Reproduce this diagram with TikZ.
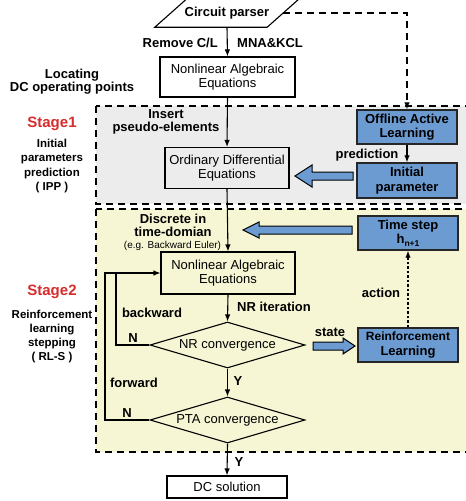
\documentclass[tikz,border=0pt]{standalone}
\usepackage{fontspec}
\setmainfont{Liberation Sans}
\usetikzlibrary{shapes.geometric,arrows.meta}
\definecolor{boxblue}{RGB}{108,155,210}
\definecolor{stagered}{RGB}{214,44,44}
\definecolor{stagegray}{RGB}{236,236,236}
\definecolor{stageyellow}{RGB}{246,246,212}
\newcommand{\fs}[1]{\fontsize{#1}{#1}\selectfont}
\tikzset{
  tip/.style={-{Latex[length=7pt,width=5.5pt]}},
  longdash/.style={dash pattern=on 7pt off 5pt},
  frame/.style={draw, line width=1.3pt, longdash},
  plainbox/.style={draw, line width=1.1pt, align=center, inner sep=0pt,
    font=\fontsize{13}{14.5}\selectfont},
  bluebox/.style={draw=black!85, line width=1.4pt, fill=boxblue, align=center,
    inner sep=0pt, minimum width=100pt, minimum height=34pt,
    font=\fontsize{13}{14.5}\selectfont\bfseries},
  decision/.style={draw, diamond, line width=1.1pt, inner sep=0pt, aspect=3.37,
    minimum width=155pt, minimum height=46pt, font=\fs{13}},
  lbl/.style={font=\fs{13}\bfseries, inner sep=0pt, align=center},
  sidelbl/.style={font=\fontsize{11.5}{14.2}\selectfont\bfseries, inner sep=0pt, align=center},
  stagelbl/.style={font=\fs{15}\bfseries, text=stagered, inner sep=0pt},
  blockarrow/.style={draw, line width=1pt, fill=boxblue, line join=miter},
  flow/.style={line width=1.1pt},
}
\begin{document}
\begin{tikzpicture}[x=1pt, y=-1pt]
\useasboundingbox (0,0) rectangle (466,501);

% stage frames
\fill[white] (0,0) rectangle (466,501);
\path[frame, fill=stagegray] (96,106) rectangle (480,204);
\path[frame, fill=stageyellow] (96,209) rectangle (480,452);

% circuit parser (parallelogram)
\node[inner sep=0pt, minimum width=112pt, minimum height=28pt, font=\fs{13}\bfseries]
  (parser) at (227,13) {Circuit parser};
\draw[flow] ([xshift=-16pt]parser.south west) -- ([xshift=16pt]parser.north west)
  -- ([xshift=16pt]parser.north east) -- ([xshift=-16pt]parser.south east) -- cycle;

% main column
\node[plainbox, fill=white, minimum width=135pt, minimum height=40pt] (nae1) at (227.5,77)
  {Nonlinear Algebraic\\Equations};
\node[plainbox, minimum width=124pt, minimum height=41pt] (ode) at (227,168)
  {Ordinary Differential\\Equations};
\node[plainbox, minimum width=134pt, minimum height=42pt] (nae2) at (228,273)
  {Nonlinear Algebraic\\Equations};
\node[decision] (nr) at (227.5,345) {NR convergence};
\node[decision] (pta) at (227.5,420) {PTA convergence};
\node[plainbox, fill=white, minimum width=120pt, minimum height=22pt] (dc) at (227,487)
  {DC solution};

% learning blocks
\node[bluebox] (oal) at (407,127) {Offline Active\\Learning};
\node[bluebox, minimum height=35pt] (initp) at (407,180.5) {Initial\\parameter};
\node[bluebox] (tstep) at (408,233)
  {Time step\\h\raisebox{-2.5pt}{\fs{8.5}n+1}};
\node[bluebox] (rl) at (408,345) {\fontsize{12}{13.5}\selectfont Reinforcement\\Learning};

% connectors
\draw[flow, tip] (parser.south) -- (nae1.north);
\draw[flow, tip, longdash] (parser.east) -| (oal.north);
\draw[flow, tip] (nae1.south) -- (ode.north);
\draw[flow, tip] (ode.south) -- (nae2.north);
\draw[flow, tip] (nae2.south) -- (nr.north);
\draw[flow, tip] (nr.south) -- (pta.north);
\draw[flow, tip] (pta.south) -- (dc.north);
\draw[flow, tip] (oal.south) -- (initp.north);
\draw[flow, tip, dash pattern=on 2.5pt off 2pt] (rl.north) -- (tstep.south);

\coordinate (jin) at (116,273);
\coordinate (jout) at (105,273);
\draw[flow] (nr.west) -| (jin);
\draw[flow, tip] (pta.west) -| (jout) -- (nae2.west);

% block arrows
\draw[blockarrow] (353,172) -- (312,172) -- (312,165) -- (295,176) -- (312,187)
  -- (312,180) -- (353,180) -- cycle;
\draw[blockarrow] (352,226) -- (259,226) -- (259,222) -- (243,230) -- (259,238)
  -- (259,234) -- (352,234) -- cycle;
\draw[blockarrow] (313,342) -- (343,342) -- (343,338) -- (355,346) -- (343,354)
  -- (343,350) -- (313,350) -- cycle;

% connector labels
\node[lbl, anchor=east] (lremove) at (218,43) {Remove C/L};
\node[lbl, anchor=west] (lmna) at (237,43) {MNA\&KCL};
\node[lbl] (linsert) at (166,122) {\fontsize{13}{15}\selectfont Insert\\pseudo-elements};
\node[lbl] (lpred) at (367,155) {prediction};
\node[lbl] (ldisc) at (173,225.5) {\fontsize{13}{15}\selectfont Discrete in\\time-domian};
\node[font=\fs{10}, inner sep=0pt] (leuler) at (172.5,246) {(e.g. Backward Euler)};
\node[lbl, anchor=west] (lnr) at (237,307) {NR iteration};
\node[lbl] (lstate) at (330,332) {state};
\node[lbl] (laction) at (381,293) {action};
\node[lbl] (lback) at (152,313) {backward};
\node[lbl] (lfwd) at (134,383) {forward};
\node[lbl] (ln1) at (133,338) {N};
\node[lbl] (ln2) at (127,413) {N};
\node[lbl] (ly1) at (238,381) {Y};
\node[lbl] (ly2) at (239,462) {Y};

% side annotations
\node[lbl] (lloc) at (72,82) {\fontsize{13}{14}\selectfont Locating\\DC operating points};
\node[stagelbl] (s1) at (52,124) {Stage1};
\node[sidelbl] (s1d) at (52,166) {Initial\\parameters\\prediction\\( IPP )};
\node[stagelbl] (s2) at (52,292) {Stage2};
\node[sidelbl] (s2d) at (52,336.5) {Reinforcement\\learning\\stepping\\( RL-S )};
\end{tikzpicture}
\end{document}
